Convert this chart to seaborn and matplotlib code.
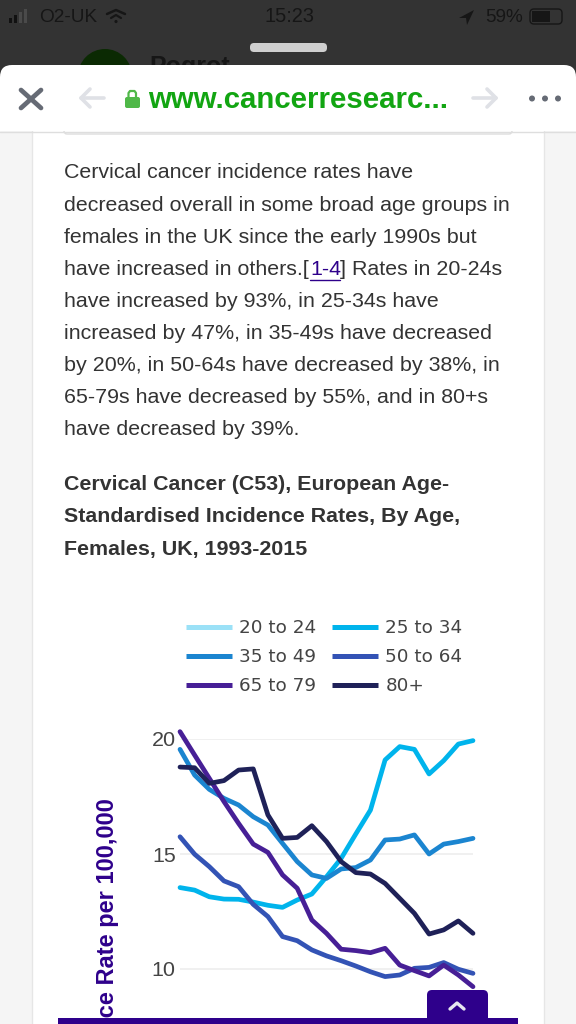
import matplotlib
matplotlib.use('Agg')
import matplotlib.pyplot as plt
import pandas as pd
import seaborn as sns
from matplotlib.lines import Line2D
from matplotlib.patches import Circle, FancyBboxPatch, Polygon, Rectangle

# -------------------------
# Data (3 year rolling averages)
# -------------------------
years = list(range(1994, 2015))
rate_25_34 = [13.54, 13.43, 13.14, 13.04, 13.03, 12.91, 12.77, 12.68, 13.0, 13.26, 14.01,
              14.81, 15.87, 16.91, 19.09, 19.67, 19.55, 18.48, 19.06, 19.78, 19.93]
rate_35_49 = [19.55, 18.43, 17.81, 17.42, 17.13, 16.62, 16.26, 15.46, 14.67, 14.09, 13.94,
              14.35, 14.41, 14.74, 15.61, 15.65, 15.83, 15.0, 15.43, 15.54, 15.68]
rate_50_64 = [15.75, 14.99, 14.45, 13.83, 13.58, 12.81, 12.28, 11.41, 11.23, 10.83, 10.57,
              10.36, 10.13, 9.88, 9.67, 9.74, 10.03, 10.07, 10.28, 9.99, 9.81]
rate_65_79 = [20.32, 19.3, 18.29, 17.28, 16.33, 15.43, 15.07, 14.09, 13.51, 12.13, 11.55,
              10.86, 10.8, 10.71, 10.9, 10.17, 9.93, 9.7, 10.17, 9.74, 9.23]
rate_80 = [18.78, 18.75, 18.07, 18.19, 18.65, 18.7, 16.7, 15.68, 15.72, 16.23, 15.54,
           14.67, 14.19, 14.13, 13.72, 13.07, 12.42, 11.52, 11.7, 12.09, 11.55]

age_groups = ['20 to 24', '25 to 34', '35 to 49', '50 to 64', '65 to 79', '80+']
age_colors = ['#9be1f7', '#00b4ec', '#1b85d0', '#3353b5', '#471f96', '#1f2158']
y_ticks = [10, 15, 20]

para_lines = ['Cervical cancer incidence rates have',
              'decreased overall in some broad age groups in',
              'females in the UK since the early 1990s but',
              None,
              'have increased by 93%, in 25-34s have',
              'increased by 47%, in 35-49s have decreased',
              'by 20%, in 50-64s have decreased by 38%, in',
              '65-79s have decreased by 55%, and in 80+s',
              'have decreased by 39%.']
heading_lines = ['Cervical Cancer (C53), European Age-',
                 'Standardised Incidence Rates, By Age,',
                 'Females, UK, 1993-2015']

df = pd.DataFrame({'year': years, '25 to 34': rate_25_34, '35 to 49': rate_35_49,
                   '50 to 64': rate_50_64, '65 to 79': rate_65_79, '80+': rate_80})
df = df.melt(id_vars='year', var_name='age', value_name='rate')

# -------------------------
# Page layout, everything in screen pixels
# -------------------------
W, H = 576, 1024
PURPLE = '#2e008b'
sns.set_theme(style='white')
plt.rcParams['font.family'] = ['Liberation Sans', 'DejaVu Sans']


def fs(px):
    return px * 72 / 100


fig = plt.figure(figsize=(W / 100, H / 100), dpi=100, facecolor='#f5f5f5')
bg = fig.add_axes([0, 0, 1, 1], zorder=0)
bg.set_xlim(0, W)
bg.set_ylim(H, 0)
bg.axis('off')

# page column
bg.add_patch(Rectangle((32, 100), 512, 930, fc='white', ec='#e6e6e6', lw=1))
bg.add_patch(FancyBboxPatch((64, 100), 448, 34, boxstyle='round,pad=0,rounding_size=3',
                            fc='white', ec='#dddddd', lw=1))

# paragraph
y0, dy = 173, 32.1
body = fs(21.4)
for i, line in enumerate(para_lines):
    if line:
        bg.text(64, y0 + i * dy, line, fontsize=body, color='#333333', va='center')
y3 = y0 + 3 * dy
bg.text(64, y3, 'have increased in others.[', fontsize=body, color='#333333', va='center')
bg.text(310, y3, '1-4', fontsize=body, color=PURPLE, va='center')
bg.text(340, y3, '] Rates in 20-24s', fontsize=body, color='#333333', va='center')
bg.plot([310, 340], [y3 + 11, y3 + 11], color=PURPLE, lw=1)

for i, line in enumerate(heading_lines):
    bg.text(64, 485 + i * 32, line, fontsize=body, color='#333333', va='center', fontweight='bold')

bg.text(108, 798, 'Incidence Rate per 100,000', rotation=90, fontsize=fs(23.6), fontweight='bold',
        color=PURPLE, ha='center', va='top')

# -------------------------
# Chart
# -------------------------
ax = fig.add_axes([180 / W, 0, 293 / W, 285 / H], zorder=1)
ax.patch.set_alpha(0)
palette = dict(zip(age_groups, age_colors))
sns.lineplot(data=df, x='year', y='rate', hue='age', palette=palette, linewidth=3.4,
             legend=False, ax=ax, clip_on=False, zorder=3,
             hue_order=age_groups[1:])
ax.set_xlim(years[0], years[-1])
ax.set_ylim(20 - 285 / 23, 20)
ax.set_yticks(y_ticks)
ax.set_xticks([])
ax.set_xlabel('')
ax.set_ylabel('')
ax.grid(axis='y', color='#eeeeee', lw=1.2)
ax.tick_params(axis='y', length=0, pad=3, labelsize=fs(21.5), labelcolor='#444444')
sns.despine(ax=ax, left=True, bottom=True)

handles = [Line2D([], [], color=c, lw=3.6, solid_capstyle='butt') for c in age_colors]
order = [0, 2, 4, 1, 3, 5]  # legend fills by column, the picture reads by row
leg = ax.legend([handles[i] for i in order], [age_groups[i] for i in order], ncol=2,
                loc='center left', bbox_to_anchor=((169 - 180) / 293, (1024 - 657) / 285),
                frameon=False, handlelength=46 / 18.4, handletextpad=0.38,
                columnspacing=0.91, labelspacing=0.6,
                prop={'family': 'DejaVu Sans', 'size': fs(18.4)}, labelcolor='#444444')

# -------------------------
# Browser chrome and bottom bar on top of the page
# -------------------------
top = fig.add_axes([0, 0, 1, 1], zorder=2)
top.set_xlim(0, W)
top.set_ylim(H, 0)
top.axis('off')

top.add_patch(Rectangle((0, 0), W, 90, fc='#333333', ec='none', zorder=0.1))
top.text(39, 17, 'O2-UK', fontsize=fs(19), color='#161616', va='center')
top.text(289, 17, '15:23', fontsize=fs(20), color='#161616', va='center', ha='center')
top.text(523, 17, '59%', fontsize=fs(19), color='#161616', va='center', ha='right')
for x, h, c in [(10, 5, '#111111'), (15, 8, '#111111'), (20, 11, '#4a4a4a'), (25, 14, '#4a4a4a')]:
    top.add_patch(Rectangle((x - 1, 23 - h), 3.4, h, fc=c, ec='none'))
top.plot([107, 116, 125], [14, 10, 14], color='#161616', lw=1.8)
top.plot([111, 116, 121], [18, 15, 18], color='#161616', lw=1.6)
top.add_patch(Circle((116, 21.5), 1.6, fc='#161616', ec='none'))
top.add_patch(Polygon([[459, 18], [474, 10], [467, 25], [466, 18]], fc='#161616', ec='none'))
top.add_patch(FancyBboxPatch((530, 9), 32, 15, boxstyle='round,pad=0,rounding_size=4', fc='none', ec='#161616', lw=1))
top.add_patch(Rectangle((532, 11), 18, 11, fc='#161616', ec='none'))
top.add_patch(FancyBboxPatch((250, 43), 77, 9, boxstyle='round,pad=0,rounding_size=4', fc='#cfcfcf', ec='none'))
top.add_patch(Circle((105, 76), 27, fc='#0b2a03', ec='none', zorder=0.2))
top.text(149, 74, 'Pogrot', fontsize=fs(25), fontweight='bold', color='#161616', va='baseline', zorder=0.2)

# white sheet with rounded top corners, square bottom
top.add_patch(FancyBboxPatch((0, 65), W, 50, boxstyle='round,pad=0,rounding_size=12', fc='white', ec='none', zorder=0.5))
top.add_patch(Rectangle((0, 85), W, 46, fc='white', ec='none', zorder=0.5))
top.plot([0, W], [131.5, 131.5], color='#dedede', lw=1, zorder=0.6)

top.plot([21, 41], [90, 108], color='#666b75', lw=3.4)
top.plot([41, 21], [90, 108], color='#666b75', lw=3.4)
for xs, tip in [((81, 104), 81), ((496, 473), 496)]:
    d = 9 if tip == 81 else -9
    top.plot(xs, [98, 98], color='#dfe1e6', lw=2.6)
    top.plot([tip + d, tip, tip + d], [89, 98, 107], color='#dfe1e6', lw=2.6)
top.add_patch(FancyBboxPatch((125, 97), 15, 11, boxstyle='round,pad=0,rounding_size=2', fc='#4fb848', ec='none'))
top.plot([128.5, 128.5, 130, 134.5, 136, 136], [97, 93, 91, 91, 93, 97], color='#4fb848', lw=1.6)
top.text(148, 100, 'www.cancerresearc...', fontsize=fs(29.4), fontweight='bold', color='#12a512',
         va='center')
for x in [532, 545, 558]:
    top.add_patch(Circle((x, 98.5), 3, fc='#666b75', ec='none'))

top.add_patch(Rectangle((58, 1018), 460, 10, fc=PURPLE, ec='none'))
top.add_patch(FancyBboxPatch((427, 990), 61, 35, boxstyle='round,pad=0,rounding_size=5', fc=PURPLE, ec='none'))
top.plot([450, 457, 464], [1009, 1003, 1009], color='#e6e6f0', lw=2.4)

fig.savefig('out.png', dpi=100, facecolor=fig.get_facecolor())
